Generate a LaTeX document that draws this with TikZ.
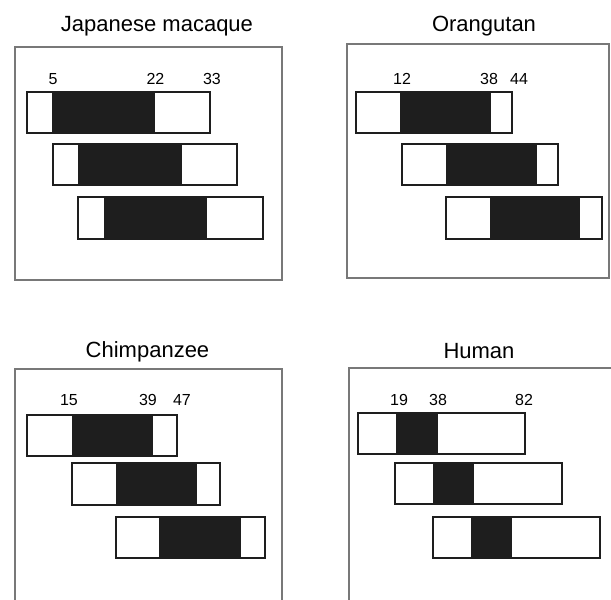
\documentclass[tikz,border=0pt]{standalone}
\usepackage{fontspec}
\setmainfont{Liberation Sans}
\definecolor{framecol}{RGB}{120,120,120}
\definecolor{inkcol}{RGB}{30,30,30}
\newcommand\genebar[6]{%
  \fill[exonfill] (#3,#5) rectangle (#4,#6);
  \draw[barline] (#1,#5) rectangle (#2,#6);}
\begin{document}
\begin{tikzpicture}[x=1pt,y=-1pt,
  frameline/.style={draw=framecol,line width=1.4pt},
  barline/.style={draw=inkcol,line width=2pt},
  exonfill/.style={fill=inkcol},
  title/.style={anchor=base,font=\fontsize{22}{22}\selectfont,text=black,inner sep=0pt},
  num/.style={anchor=base,font=\fontsize{16}{16}\selectfont,text=black,inner sep=0pt}]
\useasboundingbox (0,0) rectangle (611,600);
% frames
\draw[frameline] (15,47) rectangle (282,280);
\draw[frameline] (347,44) rectangle (609,278);
\draw[frameline] (15,601) -- (15,369) -- (282,369) -- (282,601);
\draw[frameline] (349,601) -- (349,368) -- (612,368);
% titles
\node[title] (t1) at (157,31.5) {Japanese macaque};
\node[title] (t2) at (484,31.5) {Orangutan};
\node[title] (t3) at (147.5,357) {Chimpanzee};
\node[title] (t4) at (479,358) {Human};
% numbers
\node[num] (n1a) at (53,84.5) {5};
\node[num] (n1b) at (155.5,84.5) {22};
\node[num] (n1c) at (212,84.5) {33};
\node[num] (n2a) at (402,84.5) {12};
\node[num] (n2b) at (489,84.5) {38};
\node[num] (n2c) at (519,84.5) {44};
\node[num] (n3a) at (69,405.5) {15};
\node[num] (n3b) at (148,405.5) {39};
\node[num] (n3c) at (182,405.5) {47};
\node[num] (n4a) at (399,405.5) {19};
\node[num] (n4b) at (438,405.5) {38};
\node[num] (n4c) at (524,405.5) {82};
% Japanese macaque
\genebar{27}{210}{52}{155}{92}{133}
\genebar{53}{237}{78}{182}{144}{185}
\genebar{78}{263}{104}{207}{197}{239}
% Orangutan
\genebar{356}{512}{400}{491}{92}{133}
\genebar{402}{558}{446}{537}{144}{185}
\genebar{446}{602}{490}{580}{197}{239}
% Chimpanzee
\genebar{27}{177}{72}{153}{415}{456}
\genebar{72}{220}{116}{197}{463}{505}
\genebar{116}{265}{159}{241}{517}{558}
% Human
\genebar{358}{525}{396}{438}{413}{454}
\genebar{395}{562}{433}{474}{463}{504}
\genebar{433}{600}{471}{512}{517}{558}
\end{tikzpicture}
\end{document}
